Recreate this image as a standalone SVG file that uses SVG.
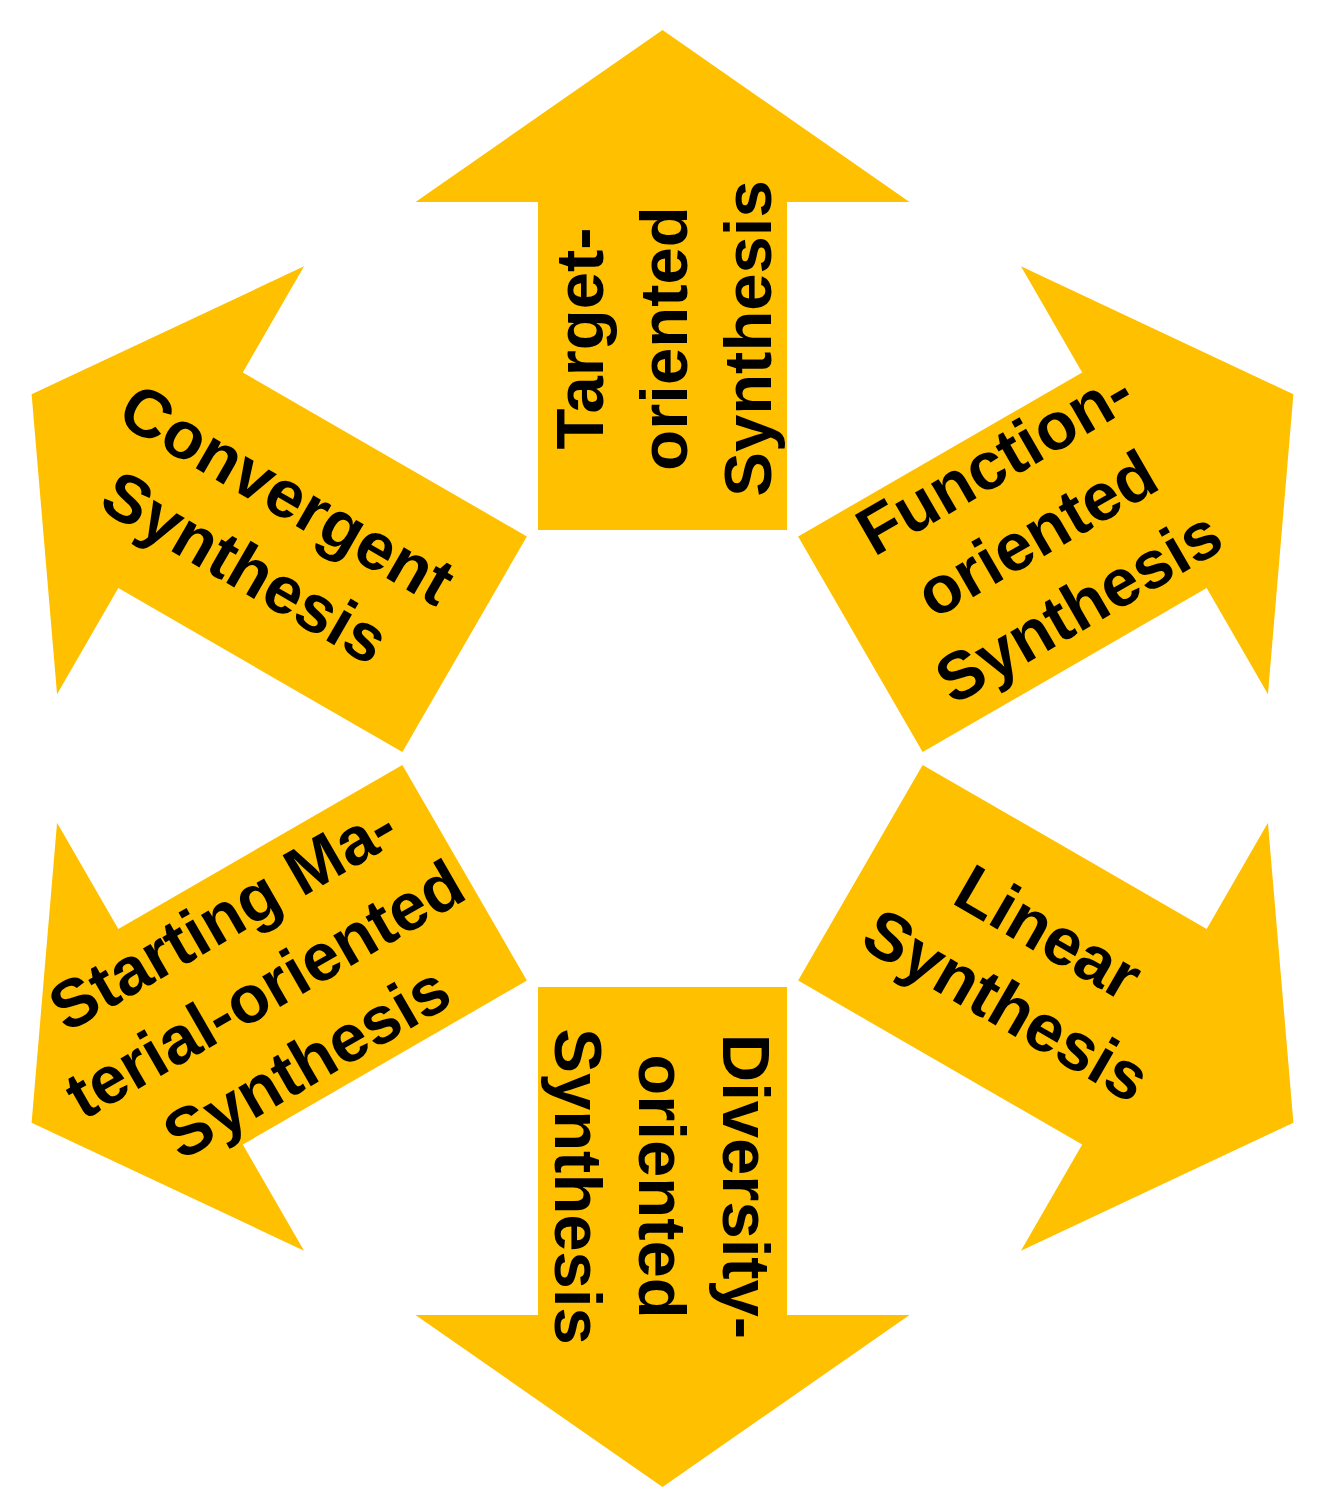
<svg xmlns="http://www.w3.org/2000/svg" xmlns:xlink="http://www.w3.org/1999/xlink" width="1320" height="1512" viewBox="0 0 1320 1512">
  <style>
    .arrow { fill: #FFC000; stroke: none; }
    .lbl { font-family: "Liberation Sans", Arial, sans-serif; font-weight: bold; font-size: 67px; fill: #000000; text-anchor: middle; }
  </style>
  <defs>
    <polygon id="arrowUp" points="538,987 538,1315 415.5,1315 662.5,1487 909.5,1315 787,1315 787,987" transform="rotate(180 662.5 758.5)"/>
  </defs>
  <rect x="0" y="0" width="1320" height="1512" fill="#FFFFFF"/>
  <g id="target-oriented">
    <use xlink:href="#arrowUp" href="#arrowUp" class="arrow"/>
    <text class="lbl" transform="translate(662.5 338.5) rotate(-90)"><tspan x="0" y="-60">Target-</tspan><tspan x="0" y="24">oriented</tspan><tspan x="0" y="108">Synthesis</tspan></text>
  </g>
  <g id="function-oriented">
    <use xlink:href="#arrowUp" href="#arrowUp" class="arrow" transform="rotate(60 662.5 758.5)"/>
    <text class="lbl" transform="translate(1036 533) rotate(-30)"><tspan x="0" y="-60">Function-</tspan><tspan x="0" y="24">oriented</tspan><tspan x="0" y="108">Synthesis</tspan></text>
  </g>
  <g id="linear">
    <use xlink:href="#arrowUp" href="#arrowUp" class="arrow" transform="rotate(120 662.5 758.5)"/>
    <text class="lbl" transform="translate(1028 968) rotate(30)"><tspan x="0" y="-18">Linear</tspan><tspan x="0" y="66">Synthesis</tspan></text>
  </g>
  <g id="diversity-oriented">
    <use xlink:href="#arrowUp" href="#arrowUp" class="arrow" transform="rotate(180 662.5 758.5)"/>
    <text class="lbl" transform="translate(662.5 1186.5) rotate(90)"><tspan x="0" y="-60">Diversity-</tspan><tspan x="0" y="24">oriented</tspan><tspan x="0" y="108">Synthesis</tspan></text>
  </g>
  <g id="starting-material-oriented">
    <use xlink:href="#arrowUp" href="#arrowUp" class="arrow" transform="rotate(240 662.5 758.5)"/>
    <text class="lbl" transform="translate(264.1 988.5) rotate(-30)"><tspan x="0" y="-60">Starting Ma-</tspan><tspan x="0" y="24">terial-oriented</tspan><tspan x="0" y="108">Synthesis</tspan></text>
  </g>
  <g id="convergent">
    <use xlink:href="#arrowUp" href="#arrowUp" class="arrow" transform="rotate(300 662.5 758.5)"/>
    <text class="lbl" transform="translate(266.7 530) rotate(30)"><tspan x="0" y="-18">Convergent</tspan><tspan x="0" y="66">Synthesis</tspan></text>
  </g>
</svg>
